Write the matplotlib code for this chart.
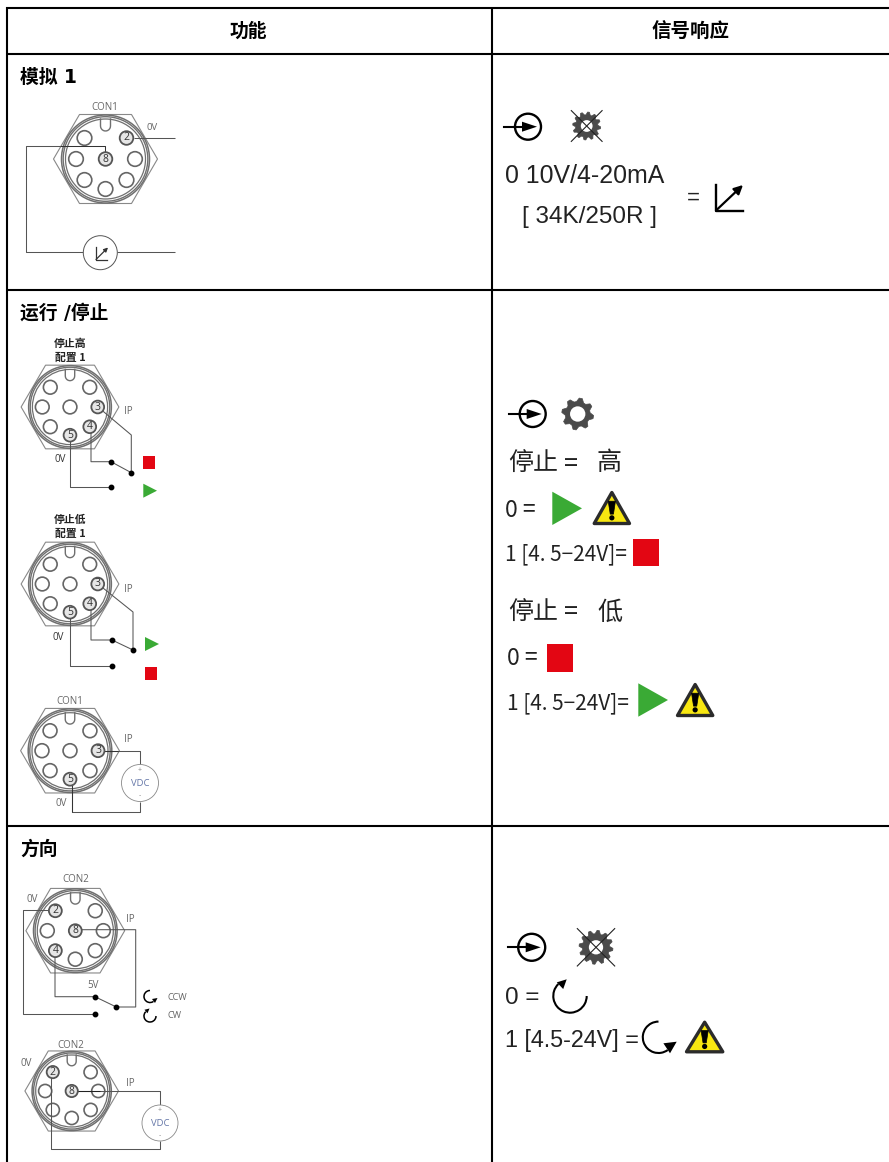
import numpy as np
import matplotlib
matplotlib.use('Agg')
import matplotlib.pyplot as plt
from matplotlib.patches import Circle, Polygon, Rectangle, Arc

CJK = ['Noto Sans CJK SC', 'DejaVu Sans']
HEAD = ['DejaVu Sans', 'Noto Sans CJK SC']
ARIAL = ['Liberation Sans', 'DejaVu Sans']
THIN = ['Open Sans', 'DejaVu Sans']

# table text
headers = ['功能', '信号响应']
sections = ['模拟 1', '运行 /停止', '方向']
con_names = ['CON1', 'CON2']
stop_high_title = ['停止高', '配置 1']
stop_low_title = ['停止低', '配置 1']
analog_lines = ['0 10V/4-20mA', '[ 34K/250R ]']
stop_high_lines = ['停止', '=', '高']
stop_low_lines = ['停止', '=', '低']
stop_one_label = '1 [4. 5−24V]='
dir_one_label = '1 [4.5-24V] ='

GREEN = '#3aaa35'
RED = '#e30613'
YELLOW = '#f8e711'
WIRE = '#555555'

# pin position in the connector, for a connector of scale 1
PIN_POS = {'tl': (-21, -21), 'tr': (21, -21), 'l': (-29.5, 0), 'r': (29.5, 0),
           'c': (0, 0), 'bl': (-21, 21), 'br': (21, 21), 'b': (0, 30)}

fig = plt.figure(figsize=(8.89, 11.62), dpi=100)
ax = fig.add_axes([0, 0, 1, 1])
ax.set_xlim(0, 889)
ax.set_ylim(1162, 0)
ax.axis('off')


def label(x, y, s, size=7, color='#666666', family=THIN, ha='center', **kw):
    # CJK fonts sit a bit high when centred
    if family in (CJK, HEAD):
        y = y + 1.5
    ax.text(x, y, s, fontsize=size, color=color, family=family, ha=ha, va='center', **kw)


def wire(xs, ys, color=WIRE, lw=0.75):
    ax.plot(xs, ys, color=color, lw=lw, solid_capstyle='butt', zorder=3)


def dots(xs, ys):
    ax.plot(xs, ys, 'o', color='black', ms=3.2, zorder=4)


def connector(cx, cy, s, numbered):
    # hexagon body with flat top
    hx, hy = 52 * s, 44.5 * s
    hexa = [(cx - hx, cy), (cx - hx / 2, cy - hy), (cx + hx / 2, cy - hy),
            (cx + hx, cy), (cx + hx / 2, cy + hy), (cx - hx / 2, cy + hy)]
    ax.add_patch(Polygon(hexa, closed=True, fc='white', ec='#888888', lw=0.8, zorder=1))
    for r, lw in [(44, 1.1), (42.3, 1.0), (40, 0.9)]:
        ax.add_patch(Circle((cx, cy), r * s, fc='none', ec='#707070', lw=lw, zorder=2))
    # key at the top, U shape
    kw = 5 * s
    t = np.linspace(np.pi, 0, 12)
    ax.plot(np.r_[cx - kw, cx + kw * np.cos(t), cx + kw],
            np.r_[cy - 40 * s, cy - 33 * s + kw * np.sin(t), cy - 40 * s],
            color='#707070', lw=1.0, zorder=2)
    for name, (dx, dy) in PIN_POS.items():
        px, py = cx + dx * s, cy + dy * s
        if name in numbered:
            ax.add_patch(Circle((px, py), 6.8 * s, fc='#e6e6e6', ec='#555555', lw=1.3, zorder=4))
            label(px, py, numbered[name], size=7.5, color='#333333', zorder=5)
        else:
            ax.add_patch(Circle((px, py), 7.3 * s, fc='white', ec='#666666', lw=1.2, zorder=2))


def vdc(cx, cy, r):
    ax.add_patch(Circle((cx, cy), r, fc='white', ec='#888888', lw=0.6, zorder=3))
    label(cx, cy, 'VDC', size=6.8, color='#6577a8', zorder=4)
    label(cx, cy - r * 0.68, '+', size=5, color='#888888', zorder=4)
    label(cx, cy + r * 0.68, '-', size=5, color='#888888', zorder=4)


def input_icon(cx, cy, r, x0):
    ax.add_patch(Circle((cx, cy), r, fc='white', ec='black', lw=1.7, zorder=3))
    ax.plot([x0, cx], [cy, cy], color='black', lw=1.5, zorder=4)
    ax.add_patch(Polygon([(cx - 6, cy - 5), (cx + 9, cy), (cx - 6, cy + 5)], closed=True,
                         fc='black', ec='none', zorder=4))


def gear(cx, cy, r, teeth, crossed, hole=0.42, inner=0.8):
    ang = np.linspace(0, 2 * np.pi, teeth * 4, endpoint=False) + np.pi / (teeth * 4) - np.pi / 2
    rad = np.array([r, r, r * inner, r * inner] * teeth)
    ax.add_patch(Polygon(np.c_[cx + rad * np.cos(ang), cy + rad * np.sin(ang)], closed=True,
                         fc='#4a4a4a', ec='#4a4a4a', lw=0.5, joinstyle='round', zorder=3))
    ax.add_patch(Circle((cx, cy), r * hole, fc='white', ec='none', zorder=4))
    if crossed:
        k = r * 1.1
        ax.plot([cx - k, cx + k], [cy + k, cy - k], color='#222222', lw=0.8, zorder=5)
        ax.plot([cx - k, cx + k], [cy - k, cy + k], color='#222222', lw=0.8, zorder=5)


def warning(x0, x1, y0, y1):
    mid = (x0 + x1) / 2
    h = y1 - y0
    ax.add_patch(Polygon([(mid, y0 + 1.5), (x1 - 1.5, y1 - 1.5), (x0 + 1.5, y1 - 1.5)], closed=True,
                         fc=YELLOW, ec='#2b2b2b', lw=2.4, joinstyle='round', zorder=3))
    ax.add_patch(Polygon([(mid - 3.6, y0 + h * 0.3), (mid + 3.6, y0 + h * 0.3),
                          (mid + 1.6, y0 + h * 0.68), (mid - 1.6, y0 + h * 0.68)], closed=True,
                         fc='black', ec='black', lw=0.5, joinstyle='round', zorder=4))
    ax.add_patch(Circle((mid, y0 + h * 0.79), 2.6, fc='black', ec='none', zorder=4))


def triangle(x0, x1, y0, y1):
    ax.add_patch(Polygon([(x0, y0), (x1, (y0 + y1) / 2), (x0, y1)], closed=True,
                         fc=GREEN, ec='none', zorder=3))


def square(x0, x1, y0, y1):
    ax.add_patch(Rectangle((x0, y0), x1 - x0, y1 - y0, fc=RED, ec='none', zorder=3))


def rotation(cx, cy, r, start, end, tip, base, lw=1.5):
    # open circular arrow, angles grow clockwise on screen because y goes down
    ax.add_patch(Arc((cx, cy), 2 * r, 2 * r, theta1=start, theta2=end, color='black', lw=lw, zorder=3))
    tip = np.array(tip, float)
    base = np.array(base, float)
    d = tip - base
    n = np.array([-d[1], d[0]]) * 0.5
    ax.add_patch(Polygon([tip, base + n, base - n], closed=True, fc='black', ec='none', zorder=4))


# --- table grid
for y in [8, 54, 290, 826]:
    ax.plot([6, 889], [y, y], color='black', lw=1.5, solid_capstyle='butt', zorder=6)
for x in [7, 492]:
    ax.plot([x, x], [7, 1162], color='black', lw=1.5, solid_capstyle='butt', zorder=6)

label(248, 30, headers[0], size=13.5, color='black', family=HEAD, weight='bold')
label(691, 31, headers[1], size=14, color='black', family=HEAD, weight='bold')
label(20, 76, sections[0], size=13.5, color='black', family=HEAD, ha='left', weight='bold')
label(20, 312, sections[1], size=13.5, color='black', family=HEAD, ha='left', weight='bold')
label(20, 848, sections[2], size=13.5, color='black', family=HEAD, ha='left', weight='bold')

# --- analog 1, left
wire([60, 26.3, 26.3, 83.3], [146.3, 146.3, 252, 252])
wire([117.3, 174.7], [252, 252])
connector(105.5, 159, 1, {'tr': '2', 'c': '8'})
wire([105.3, 105.3, 60], [152, 146.3, 146.3], color='#333333')
wire([134, 174.7], [137.7, 137.7])
label(105, 107, con_names[0])
label(152, 128, '0V', size=6.8)
ax.add_patch(Circle((100.3, 252.7), 17, fc='white', ec='#555555', lw=0.7, zorder=3))
ax.plot([95.5, 95.5, 107], [247, 259.5, 259.5], color='#333333', lw=0.9, zorder=4)
ax.annotate('', xy=(108, 247.5), xytext=(96, 259.5), zorder=4,
            arrowprops=dict(arrowstyle='-|>', color='#333333', lw=0.9, mutation_scale=6, shrinkA=0, shrinkB=0))

# --- run/stop, left: stop high
label(70, 342, stop_high_title[0], size=7.8, color='#222222', family=CJK, weight='bold')
label(70, 356, stop_high_title[1], size=7.8, color='#222222', family=CJK, weight='bold')
connector(70, 407, 0.94, {'r': '3', 'br': '4', 'b': '5'})
wire([98, 131.3, 131.3], [407, 435, 472.7])
wire([91, 91, 111, 131.3], [428, 461.7, 461.7, 472.7])
wire([69.7, 69.7, 111], [437, 487, 487])
dots([111, 131.3, 111], [461.7, 472.7, 487])
label(128, 412, 'IP')
label(60, 459, '0V', color='#333333')
square(143.3, 155, 456.3, 468.7)
triangle(143.3, 157, 483.7, 497.7)

# stop low
label(70, 518, stop_low_title[0], size=7.8, color='#222222', family=CJK, weight='bold')
label(70, 532, stop_low_title[1], size=7.8, color='#222222', family=CJK, weight='bold')
connector(70, 584, 0.94, {'r': '3', 'br': '4', 'b': '5'})
wire([98, 133, 133], [584, 612, 650])
wire([91, 91, 112, 133], [605, 640, 640, 650])
wire([69.7, 69.7, 112], [614, 666, 666])
dots([112, 133, 112], [640, 650, 666])
label(128, 590, 'IP')
label(58, 637, '0V', color='#333333')
triangle(145, 159, 637, 651)
square(145, 157, 667, 680)

# DC wiring
wire([100, 140, 140], [750.7, 750.7, 764])
wire([140, 140, 71.7, 71.7], [802, 811.7, 811.7, 780])
connector(70, 750.7, 0.95, {'r': '3', 'b': '5'})
wire([100, 118], [750.7, 750.7], color='#333333')
wire([71.7, 71.7], [785, 811.7], color='#333333')
vdc(140, 783, 18.5)
label(70, 701, con_names[0])
label(128, 739, 'IP')
label(61, 804, '0V')

# --- direction, left
connector(75.3, 930.7, 0.95, {'tl': '2', 'bl': '4', 'c': '8'})
wire([56, 23.3, 23.3, 95], [909.7, 909.7, 1014.3, 1014.3])
wire([55, 55, 95, 116.3, 135.7, 135.7, 75.3], [951.7, 996.7, 996.7, 1007, 1007, 929.7, 929.7])
dots([95, 116.3, 95], [996.7, 1007, 1014.3])
label(76, 879, con_names[1])
label(32, 900, '0V')
label(130, 920, 'IP')
label(93, 985, '5V')
label(167, 997, 'CCW', size=6.6, ha='left')
label(167, 1015, 'CW', size=6.6, ha='left')
rotation(150, 996.5, 6, 54, 270, (157.5, 998), (153.5, 1001), lw=1.1)
rotation(150, 1016, 6, 0, 226, (149.5, 1008.5), (146, 1011.5), lw=1.1)

connector(71.7, 1091, 0.9, {'tl': '2', 'c': '8'})
wire([51, 51, 160, 160], [1073, 1149, 1149, 1141])
wire([160, 160, 71.7], [1105, 1090.7, 1090.7])
wire([71.7, 100], [1090.7, 1090.7], color='#222222')
vdc(160, 1123, 18)
label(71, 1045, con_names[1])
label(26, 1063, '0V')
label(130, 1083, 'IP')

# --- right column: analog
input_icon(528, 126.7, 13, 504.3)
gear(586.7, 126, 14, 12, True)
label(505, 176, analog_lines[0], size=17.9, color='#222222', family=ARIAL, ha='left')
label(589, 216.5, analog_lines[1], size=17.5, color='#222222', family=ARIAL)
label(693, 198, '=', size=16, color='#222222', family=ARIAL)
ax.plot([716, 716, 743], [185, 210.5, 210.5], color='black', lw=1.7, zorder=3)
ax.annotate('', xy=(743, 185), xytext=(716, 210.5), zorder=3,
            arrowprops=dict(arrowstyle='-|>', color='black', lw=1.6, mutation_scale=13, shrinkA=0, shrinkB=0))

# right column: run/stop
input_icon(532.7, 414, 13, 509)
gear(577.7, 414, 16, 8, False, hole=0.48, inner=0.78)
label(508, 462, stop_high_lines[0], size=18, color='#222222', family=CJK, ha='left')
label(571, 462, stop_high_lines[1], size=18, color='#222222', family=CJK)
label(597, 462, stop_high_lines[2], size=18, color='#222222', family=CJK, ha='left')
label(505, 509, '0 =', size=16.5, color='#222222', family=CJK, ha='left')
triangle(552.3, 582, 491.7, 525)
warning(592.7, 631, 491, 525)
label(505, 553, stop_one_label, size=15, color='#222222', family=CJK, ha='left')
square(633.3, 659.3, 539, 566)
label(508, 611, stop_low_lines[0], size=18, color='#222222', family=CJK, ha='left')
label(571, 611, stop_low_lines[1], size=18, color='#222222', family=CJK)
label(597, 611, stop_low_lines[2], size=18, color='#222222', family=CJK, ha='left')
label(507, 657, '0 =', size=16.5, color='#222222', family=CJK, ha='left')
square(546.7, 573, 644.3, 671.7)
label(507, 702, stop_one_label, size=15, color='#222222', family=CJK, ha='left')
triangle(638.3, 668, 683.3, 716.7)
warning(676, 714.3, 683, 717)

# right column: direction
input_icon(531.7, 947.3, 13.5, 507.7)
gear(596, 947.3, 17, 12, True)
label(505, 998, '0 =', size=17.5, color='#222222', family=ARIAL, ha='left')
rotation(570, 996, 16.7, 0, 226, (566.7, 979.3), (560, 985.7))
label(505, 1041, dir_one_label, size=16.8, color='#222222', family=ARIAL, ha='left')
rotation(658.5, 1037.3, 15.7, 54, 270, (676.7, 1041.7), (666.7, 1048.3))
warning(685, 724.3, 1020.7, 1053.3)

fig.savefig('out.png', dpi=100)
